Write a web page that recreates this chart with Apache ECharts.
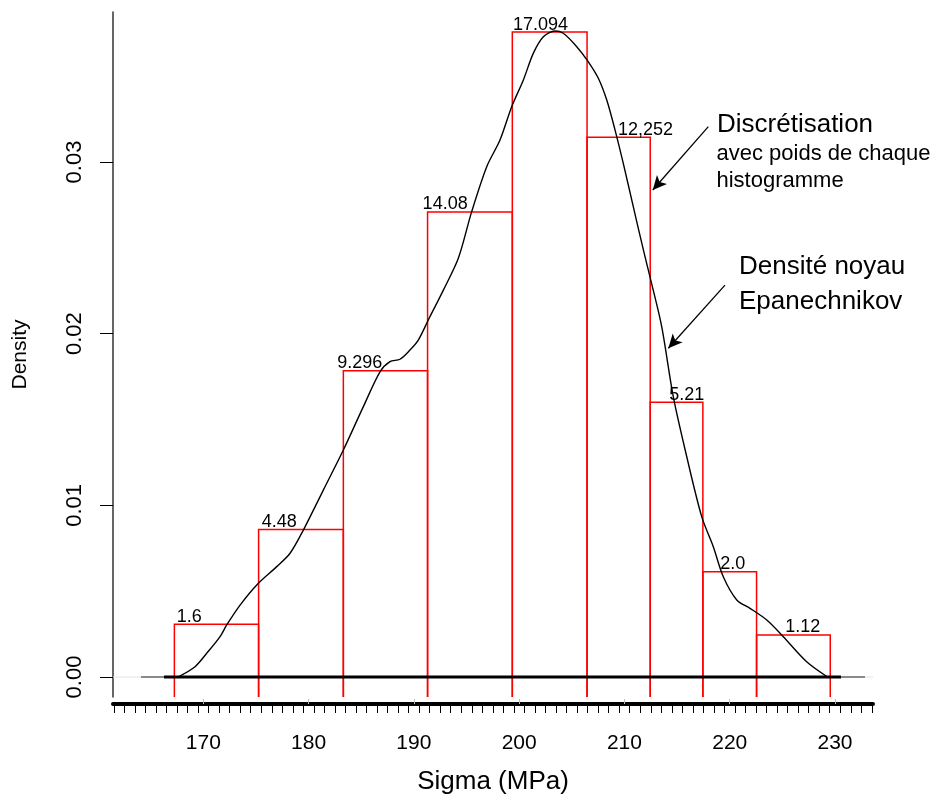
<!DOCTYPE html>
<html>
<head>
<meta charset="utf-8">
<script src="https://cdn.jsdelivr.net/npm/echarts@6/dist/echarts.min.js"></script>
<style>html,body{margin:0;padding:0;background:#fff;}#chart{width:936px;height:800px;}</style>
</head>
<body>
<div id="chart"></div>
<script>
// ---- data ----
const binEdges = [167.25, 175.25, 183.3, 191.3, 199.35, 206.45, 212.45, 217.45, 222.55, 229.55];
const binDensity = [0.00307, 0.0086, 0.01784, 0.02709, 0.03757, 0.03144, 0.016, 0.00613, 0.00245];
const binLabels = ['1.6', '4.48', '9.296', '14.08', '17.094', '12,252', '5.21', '2.0', '1.12'];
const kdeX = [167.6, 169.21, 170.32, 171.59, 172.22, 173.49, 175.23, 176.97, 178.24, 179.5, 181.4, 183.3, 185.2, 186.78, 187.73, 188.68, 189.63, 190.42, 191.37, 192.8, 194.22, 195.49, 196.92, 198.18, 199.29, 200.4, 201.34, 202.3, 203.41, 204.19, 205.47, 206.57, 207.52, 208.32, 209.11, 209.89, 210.84, 211.8, 212.55, 213.54, 214.64, 215.92, 217.34, 218.44, 219.39, 220.67, 221.93, 223.52, 225.09, 227.31, 229.3];
const kdeY = [0, 0.0006, 0.00138, 0.00235, 0.00303, 0.00419, 0.00546, 0.00643, 0.00721, 0.00856, 0.01089, 0.01322, 0.01575, 0.01778, 0.01837, 0.01851, 0.01905, 0.01963, 0.0208, 0.02254, 0.02439, 0.02711, 0.02973, 0.03128, 0.03322, 0.03478, 0.03633, 0.0373, 0.03763, 0.0375, 0.03672, 0.03584, 0.03488, 0.03361, 0.03186, 0.02992, 0.0274, 0.02488, 0.0230, 0.02041, 0.01633, 0.01283, 0.00934, 0.00759, 0.00584, 0.00449, 0.004, 0.00332, 0.00235, 0.00089, 0];
const xTickLabels = [170, 180, 190, 200, 210, 220, 230];
const yTickLabels = [0, 0.01, 0.02, 0.03];

// ---- layout (annotation placement, not data) ----
const X_MIN = 161.42, X_MAX = 233.61;
const Y_MIN = -0.001165, Y_MAX = 0.03874;
const labelLeftX = [167.47, 175.54, 182.72, 190.83, 199.41, 209.38, 214.25, 219.1, 225.28];
const minorTicks = [];
for (let v = 161.5; v <= 233.5; v += 1) minorTicks.push(+v.toFixed(2));
const FONT = '"Liberation Sans", Arial, Helvetica, sans-serif';

const chart = echarts.init(document.getElementById('chart'), null, {renderer: 'canvas'});

function renderBar(params, api) {
  const i = api.value(3);
  const x0 = api.value(0), x1 = api.value(1), h = api.value(2);
  const pL = api.coord([x0, h]);
  const pR = api.coord([x1, h]);
  const bottom = params.coordSys.y + params.coordSys.height;
  const lx = api.coord([labelLeftX[i], h])[0];
  return {
    type: 'group',
    children: [
      {
        type: 'polyline',
        shape: {points: [[pL[0], bottom], [pL[0], pL[1]], [pR[0], pR[1]], [pR[0], bottom]]},
        style: {stroke: '#ff0000', fill: 'none', lineWidth: 1.5}
      },
      {
        type: 'text',
        x: lx, y: pL[1] - 7.5,
        style: {text: binLabels[i], fill: '#000', font: '18px ' + FONT, align: 'left', verticalAlign: 'middle'}
      }
    ]
  };
}

const option = {
  animation: false,
  backgroundColor: '#fff',
  grid: {left: 113, right: 63, top: 12, bottom: 103},
  xAxis: [
    {
      type: 'value', min: X_MIN, max: X_MAX, position: 'bottom', offset: 7,
      axisLine: {show: true, onZero: false, lineStyle: {color: '#000', width: 4}},
      axisTick: {show: true, customValues: minorTicks, length: 9, inside: false, lineStyle: {color: '#000', width: 1}},
      axisLabel: {show: true, customValues: xTickLabels, margin: 29, color: '#000', fontSize: 21, fontFamily: FONT, formatter: v => String(v)},
      splitLine: {show: false},
      name: 'Sigma (MPa)', nameLocation: 'middle', nameGap: 65,
      nameTextStyle: {color: '#000', fontSize: 26, fontFamily: FONT}
    },
    {
      type: 'value', min: X_MIN, max: X_MAX, position: 'bottom', offset: 7,
      axisLine: {show: false, onZero: false},
      axisTick: {show: true, customValues: xTickLabels, length: 5, inside: true, lineStyle: {color: '#bbb', width: 1}},
      axisLabel: {show: false},
      splitLine: {show: false}
    }
  ],
  yAxis: {
    type: 'value', min: Y_MIN, max: Y_MAX,
    axisLine: {show: true, lineStyle: {color: '#333', width: 1.5}},
    axisTick: {show: true, customValues: yTickLabels, length: 13, lineStyle: {color: '#000', width: 1}},
    axisLabel: {show: true, customValues: yTickLabels, rotate: 90, margin: 27, color: '#000', fontSize: 22, fontFamily: FONT, formatter: v => v.toFixed(2)},
    splitLine: {show: false},
    name: 'Density', nameLocation: 'middle', nameGap: 82, nameRotate: 90,
    nameTextStyle: {color: '#000', fontSize: 21, fontFamily: FONT}
  },
  series: [
    {
      type: 'custom', name: 'bins', renderItem: renderBar, clip: false, silent: true,
      encode: {x: [0, 1], y: 2},
      data: binDensity.map((d, i) => [binEdges[i], binEdges[i + 1], d, i])
    },
    {
      type: 'line', name: 'baseline-grey', silent: true, symbol: 'none',
      lineStyle: {color: '#e2e2e2', width: 1},
      data: [[X_MIN, 0], [X_MAX, 0]]
    },
    {
      type: 'line', name: 'kde', silent: true, symbol: 'none', smooth: 0.3,
      lineStyle: {color: '#000', width: 1.4},
      data: kdeX.map((x, i) => [x, kdeY[i]])
    },
    {
      type: 'line', name: 'zero-thin', silent: true, symbol: 'none',
      lineStyle: {color: '#222', width: 1},
      data: [[164.08, 0], [232.85, 0]],
      markLine: {
        silent: true, animation: false,
        symbol: ['none', 'arrow'], symbolSize: [10, 14],
        lineStyle: {color: '#000', width: 1.3, type: 'solid'},
        label: {show: false},
        emphasis: {disabled: true},
        data: [
          [{coord: [217.97, 0.03206]}, {coord: [212.69, 0.02837]}],
          [{coord: [219.55, 0.02283]}, {coord: [214.17, 0.01915]}]
        ]
      }
    },
    {
      type: 'line', name: 'zero-thick', silent: true, symbol: 'none',
      lineStyle: {color: '#000', width: 3},
      data: [[166.27, 0], [230.57, 0]]
    }
  ],
  graphic: [
    {type: 'text', left: 717, top: 125 - 13, style: {text: 'Discrétisation', font: '26px ' + FONT, fill: '#000'}},
    {type: 'text', left: 716.5, top: 154 - 11, style: {text: 'avec poids de chaque', font: '22px ' + FONT, fill: '#000'}},
    {type: 'text', left: 716.5, top: 180.7 - 11, style: {text: 'histogramme', font: '22px ' + FONT, fill: '#000'}},
    {type: 'text', left: 739, top: 266.7 - 13, style: {text: 'Densité noyau', font: '26px ' + FONT, fill: '#000'}},
    {type: 'text', left: 739, top: 301.7 - 13, style: {text: 'Epanechnikov', font: '26px ' + FONT, fill: '#000'}}
  ]
};
chart.setOption(option);
</script>
</body>
</html>
